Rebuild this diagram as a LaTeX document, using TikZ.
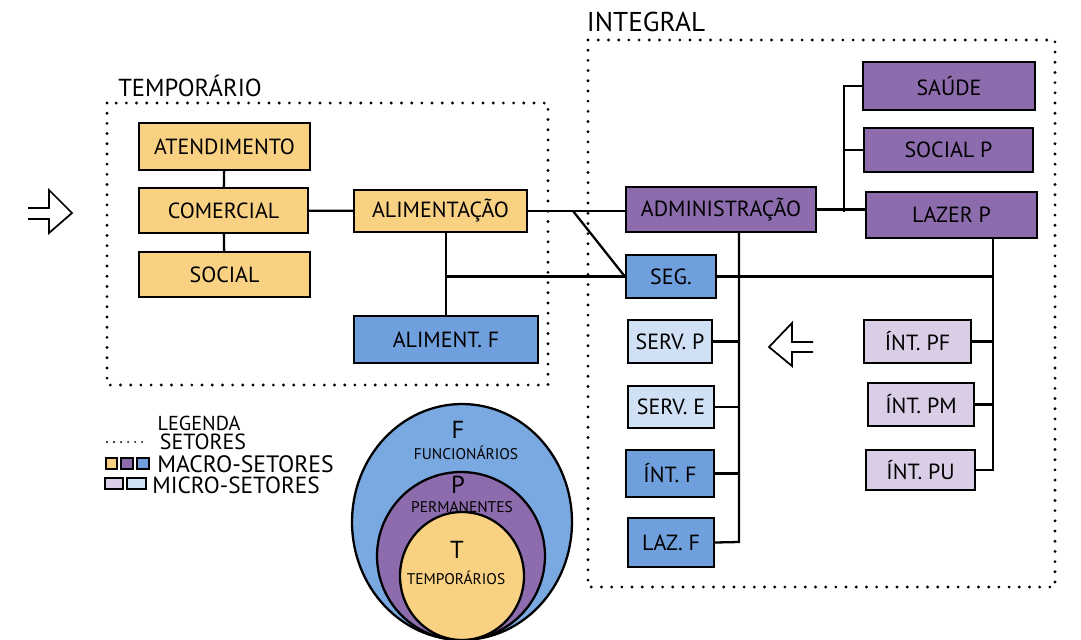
\documentclass[tikz,border=0pt]{standalone}
\usepackage{fontspec}
\setmainfont{PT Sans}
\usepackage{tikz}
\usetikzlibrary{calc}

\definecolor{macroY}{HTML}{F9D183}
\definecolor{macroP}{HTML}{8D6CAD}
\definecolor{macroB}{HTML}{6F9FDC}
\definecolor{microP}{HTML}{D9CEE6}
\definecolor{microB}{HTML}{D0E1F6}
\definecolor{circB}{HTML}{7AA8E1}

\tikzset{
    setor/.style={draw, line width=1.3pt, inner sep=0pt, font=\fontsize{12.5}{14}\selectfont},
    wire/.style={line width=1.3pt},
    frame/.style={line width=1.8pt, line cap=round, dash pattern=on 0pt off 5.8pt},
    titulo/.style={font=\fontsize{14}{16}\selectfont},
    hollow/.style={line width=1pt, line join=miter}
}

\begin{document}
\begin{tikzpicture}[x=0.02cm,y=-0.02cm]
            \useasboundingbox (0,0) rectangle (1081,639);

            \draw[frame] (107,103) rectangle (548,385);
            \draw[frame] (588,40) rectangle (1055,587);
            \node[titulo] (ttemp) at (190,86) {TEMPORÁRIO};
            \node[titulo, font=\fontsize{15.5}{17}\selectfont] (tinteg) at (646,22) {INTEGRAL};

            \node[setor, fill=macroY, minimum width=3.42cm, minimum height=0.94cm] (atend) at (224.5,146.5) {ATENDIMENTO};
            \node[setor, fill=macroY, minimum width=3.38cm, minimum height=0.9cm] (comerc) at (223.5,210.5) {COMERCIAL};
            \node[setor, fill=macroY, minimum width=3.42cm, minimum height=0.9cm] (social) at (224.5,274.5) {SOCIAL};
            \node[setor, fill=macroY, minimum width=3.46cm, minimum height=0.84cm] (alim) at (440.5,211) {ALIMENTAÇÃO};
            \node[setor, fill=macroB, minimum width=3.68cm, minimum height=0.94cm] (alimf) at (446,339.5) {ALIMENT. F};

            \node[setor, fill=macroP, minimum width=3.8cm, minimum height=0.9cm] (admin) at (721,209.5) {ADMINISTRAÇÃO};
            \node[setor, fill=macroB, minimum width=1.8cm, minimum height=0.86cm] (seg) at (671,276.5) {SEG.};
            \node[setor, fill=macroP, minimum width=3.44cm, minimum height=0.96cm] (saude) at (949,86) {SAÚDE};
            \node[setor, fill=macroP, minimum width=3.38cm, minimum height=0.88cm] (socialp) at (948.5,150) {SOCIAL P};
            \node[setor, fill=macroP, minimum width=3.42cm, minimum height=0.92cm] (lazerp) at (951.5,215) {LAZER P};

            \node[setor, fill=microB, minimum width=1.68cm, minimum height=0.86cm] (servp) at (670,341.5) {SERV. P};
            \node[setor, fill=microB, minimum width=1.72cm, minimum height=0.84cm] (serve) at (671,407) {SERV. E};
            \node[setor, fill=macroB, minimum width=1.76cm, minimum height=0.94cm] (intf) at (670,473.5) {ÍNT. F};
            \node[setor, fill=macroB, minimum width=1.72cm, minimum height=0.98cm] (lazf) at (671,542.5) {LAZ. F};

            \node[setor, fill=microP, minimum width=2.14cm, minimum height=0.86cm] (intpf) at (917.5,341.5) {ÍNT. PF};
            \node[setor, fill=microP, minimum width=2.12cm, minimum height=0.86cm] (intpm) at (921,404.5) {ÍNT. PM};
            \node[setor, fill=microP, minimum width=2.18cm, minimum height=0.8cm] (intpu) at (920.5,470) {ÍNT. PU};

            \coordinate (split) at (573,211);
            \coordinate (pbus) at (844,212);
            \coordinate (fbus) at (739,542);
            \coordinate (ibus) at (993,470);

            \draw[wire] (atend) -- (comerc);
            \draw[wire] (comerc) -- (social);
            \draw[wire] (comerc) -- (alim);
            \draw[wire] (alim.east) -- (admin.west |- alim.east);
            \draw[wire] (split) -- (seg.west);
            \draw[wire] (alimf.north) -- (alimf.north |- alim.south);
            \draw[wire] (alimf.north |- seg.west) -- (seg.west);
            \draw[wire] (seg.east) -- (seg.east -| ibus);

            \draw[wire] (admin.east) -- (admin.east -| lazerp.west);
            \draw[wire] (saude.west) -| (pbus);
            \draw[wire] (socialp.west) -- (socialp.west -| pbus);

            \draw[wire] (fbus |- admin.south) -- (fbus) -- (lazf.east);
            \draw[wire] (servp.east) -- (servp.east -| fbus);
            \draw[wire] (serve.east) -- (serve.east -| fbus);
            \draw[wire] (intf.east) -- (intf.east -| fbus);

            \draw[wire] (ibus |- lazerp.south) -- (ibus) -- (intpu.east);
            \draw[wire] (intpf.east) -- (intpf.east -| ibus);
            \draw[wire] (intpm.east) -- (intpm.east -| ibus);

            \draw[hollow] (28,208) -- (49,208) -- (49,190) -- (72,213) -- (49,233) -- (49,219) -- (28,219);
            \draw[hollow] (813,342) -- (792,342) -- (792,323) -- (769,347) -- (792,366) -- (792,352) -- (813,352);

            \node[font=\fontsize{11.5}{13}\selectfont] (leg) at (199,423) {LEGENDA};
            \draw[frame, line width=1.2pt, dash pattern=on 0pt off 4pt] (107,442) -- (145,442);
            \node[font=\fontsize{12.5}{14}\selectfont] (legset) at (203,442) {SETORES};
            \draw[wire, fill=macroY] (106,458) rectangle (117,469);
            \draw[wire, fill=macroP] (121,458) rectangle (133,469);
            \draw[wire, fill=macroB] (137,458) rectangle (149,469);
            \node[font=\fontsize{13.5}{15}\selectfont, anchor=west, inner sep=0pt] (legmacro) at (157,464) {MACRO-SETORES};
            \draw[wire, fill=microP] (105,478) rectangle (123,489);
            \draw[wire, fill=microB] (127,478) rectangle (146,489);
            \node[font=\fontsize{13.3}{15}\selectfont, anchor=west, inner sep=0pt] (legmicro) at (152,485) {MICRO-SETORES};

            \draw[wire, fill=circB] (462,522) ellipse [x radius=2.2cm, y radius=2.36cm];
            \draw[wire, fill=macroP] (461,556) ellipse [x radius=1.68cm, y radius=1.68cm];
            \draw[wire, fill=macroY] (462,576) ellipse [x radius=1.24cm, y radius=1.28cm];
            \node[font=\fontsize{14}{16}\selectfont] (cf) at (458,430) {F};
            \node[font=\fontsize{8.8}{10}\selectfont] (cfun) at (466,453) {FUNCIONÁRIOS};
            \node[font=\fontsize{14}{16}\selectfont] (cp) at (458,485) {P};
            \node[font=\fontsize{8.8}{10}\selectfont] (cperm) at (462,507) {PERMANENTES};
            \node[font=\fontsize{14}{16}\selectfont] (ct) at (457,550) {T};
            \node[font=\fontsize{8.8}{10}\selectfont] (ctemp) at (456,578) {TEMPORÁRIOS};
        \end{tikzpicture}
\end{document}
